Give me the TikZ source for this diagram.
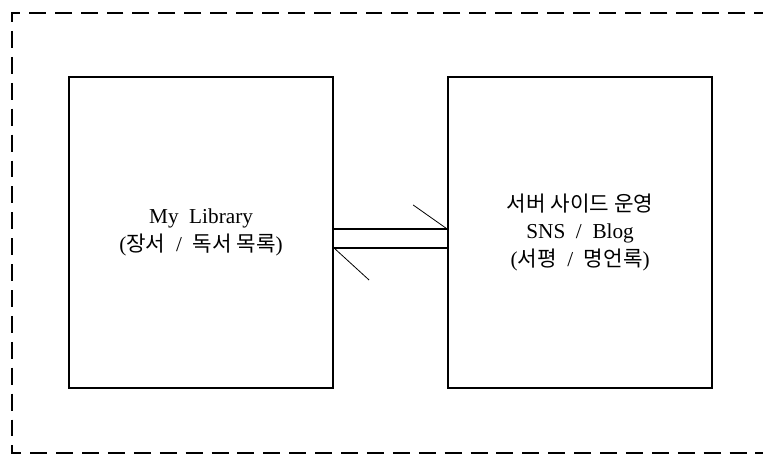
\documentclass[tikz,border=0pt]{standalone}
\usepackage{fontspec}
\setmainfont{Liberation Serif}[WordSpace=2]
\newfontfamily\kr{Noto Sans CJK KR}
\begin{document}
\begin{tikzpicture}[
  caixa/.style={draw, line width=1.5pt, minimum width=6.98cm, minimum height=8.23cm,
    align=center, inner sep=0pt, font=\fontsize{16}{20.5}\selectfont},
  limite/.style={line width=1.5pt, dash pattern=on 12.75pt off 6.75pt},
  seta/.style={line width=0.9pt},
  farpa/.style={line width=0.6pt}]

% Area do desenho
\useasboundingbox (0, 0) rectangle (20.19, 12.04);

% Caixa tracejada exterior
\draw[limite] (20.4, 11.70) -- (0.32, 11.70) -- (0.32, 0.05) -- (20.4, 0.05);

% Caixas
\node[caixa] (lib) at (5.32, 5.89) {My Library\\({\kr 장서} / {\kr 독서 목록})};
\node[caixa] (srv) at (15.35, 5.89) {{\kr 서버 사이드 운영}\\SNS / Blog\\({\kr 서평} / {\kr 명언록})};

% Ligacoes (meia seta)
\draw[seta] ([yshift=0.09cm]lib.east) -- ([yshift=0.09cm]srv.west);
\draw[seta] ([yshift=-0.41cm]lib.east) -- ([yshift=-0.41cm]srv.west);
\draw[farpa] ([yshift=0.09cm]srv.west) -- ++(-0.90, 0.635);
\draw[farpa] ([yshift=-0.41cm]lib.east) -- ++(0.93, -0.85);

\end{tikzpicture}
\end{document}
